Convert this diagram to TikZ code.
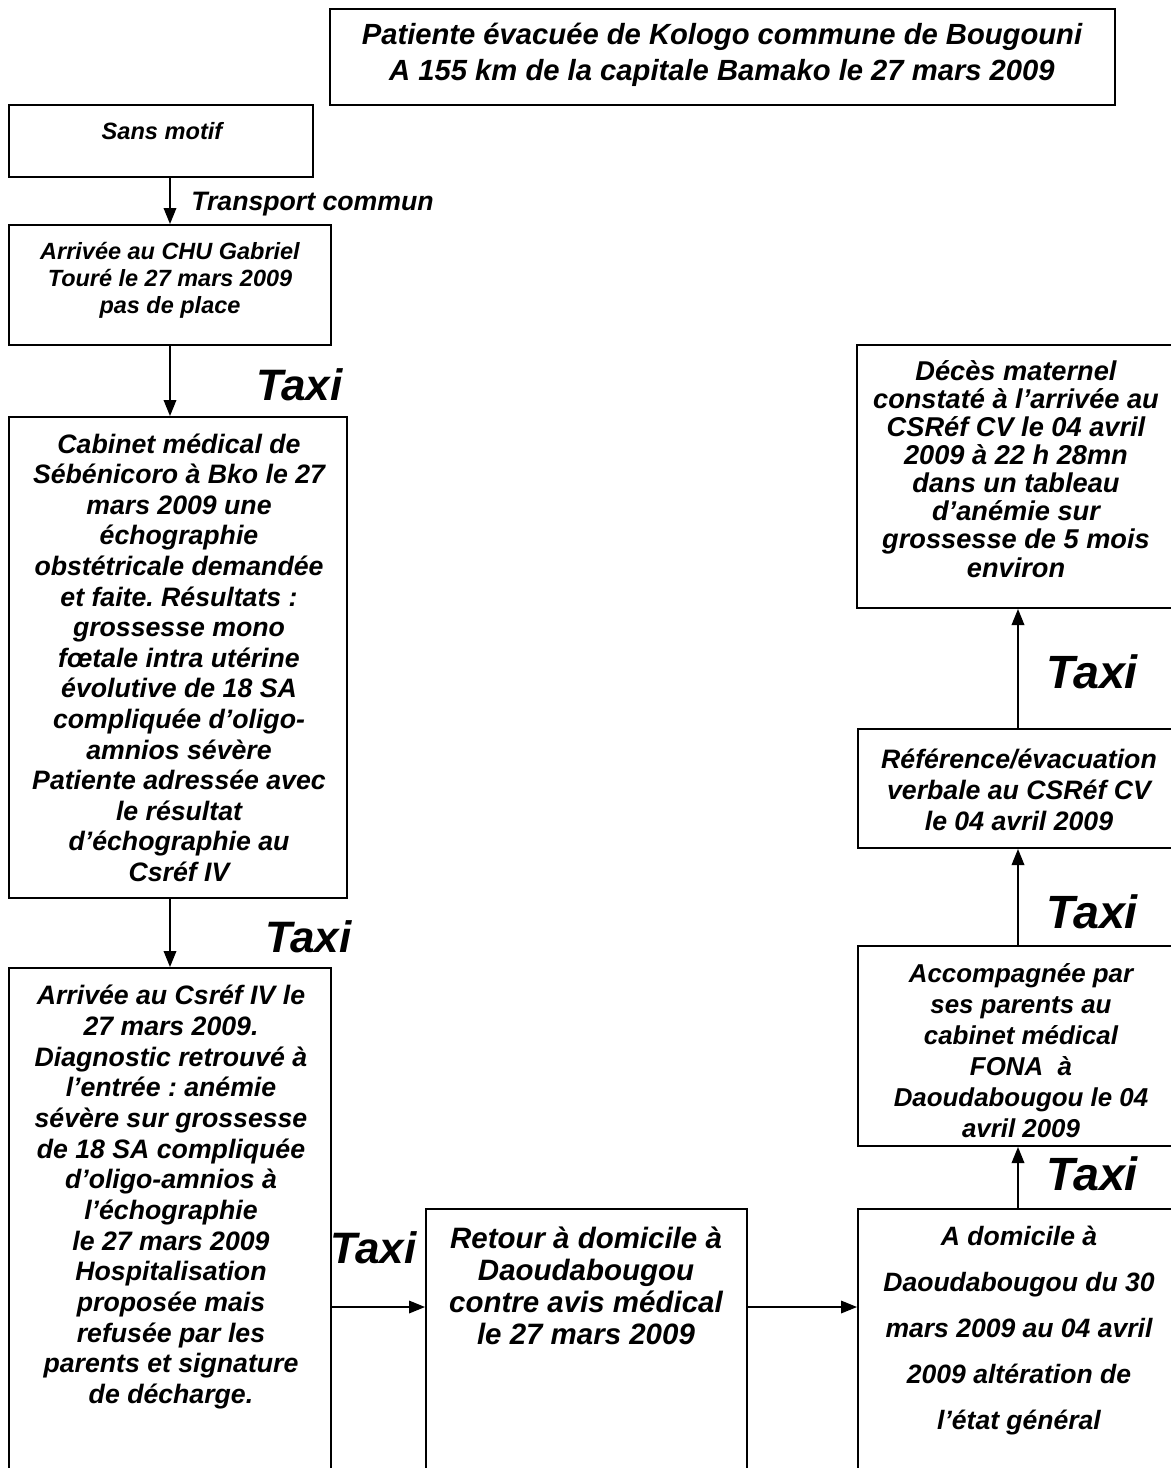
\documentclass[tikz,border=0pt]{standalone}
\usepackage{fontspec}
\setmainfont{Liberation Sans}
\usetikzlibrary{arrows.meta,fit}
\frenchspacing
\newcommand\myfs[2]{\fontsize{#1}{#2}\selectfont\bfseries\itshape}
\begin{document}
\begin{tikzpicture}[x=0.75pt,y=-0.75pt,
  box/.style={draw,line width=1.5pt,inner sep=0pt},
  txt/.style={inner sep=0pt,align=center,anchor=base},
  lbl/.style={inner sep=0pt,anchor=base west},
  taxiL/.style={lbl,font=\myfs{33pt}{36pt}},
  taxiR/.style={lbl,font=\myfs{35pt}{38pt}},
  arr/.style={line width=1pt,-{Triangle[length=12pt,width=9.5pt]}}]
\useasboundingbox (0,0) rectangle (1171,1468);
\clip (0,0) rectangle (1171,1468);

% boxes
\node[box,fit={(330,9) (1115,105)}] (title) {};
\node[box,fit={(9,105) (313,177)}] (sans) {};
\node[box,fit={(9,225) (331,345)}] (chu) {};
\node[box,fit={(9,417) (347,898)}] (cab) {};
\node[box,fit={(9,968) (331,1500)}] (arv) {};
\node[box,fit={(426,1209) (747,1500)}] (ret) {};
\node[box,fit={(858,1209) (1185,1500)}] (dom) {};
\node[box,fit={(858,946) (1185,1146)}] (acc) {};
\node[box,fit={(858,729) (1185,848)}] (ref) {};
\node[box,fit={(857,345) (1185,608)}] (dec) {};

% texts (anchored at the baseline of their last line)
\node[txt,font=\myfs{21.9pt}{27pt}] (titleT) at (722,80)
  {Patiente évacuée de Kologo commune de Bougouni\\A 155 km de la capitale Bamako le 27 mars 2009};
\node[txt,font=\myfs{17.7pt}{20.25pt}] (sansT) at (162,139) {Sans motif};
\node[txt,font=\myfs{17.6pt}{20.25pt}] (chuT) at (170,313)
  {Arrivée au CHU Gabriel\\Touré le 27 mars 2009\\pas de place};
\node[txt,font=\myfs{20pt}{22.95pt}] (cabT) at (179,881.5)
  {Cabinet médical de\\Sébénicoro à Bko le 27\\mars 2009 une\\échographie\\obstétricale demandée\\et faite. Résultats :\\grossesse mono\\fœtale intra utérine\\évolutive de 18 SA\\compliquée d’oligo-\\amnios sévère\\Patiente adressée avec\\le résultat\\d’échographie au\\Csréf IV};
\node[txt,font=\myfs{20pt}{23pt}] (arvT) at (171,1403.5)
  {Arrivée au Csréf IV le\\27 mars 2009.\\Diagnostic retrouvé à\\l’entrée : anémie\\sévère sur grossesse\\de 18 SA compliquée\\d’oligo-amnios à\\l’échographie\\le 27 mars 2009\\Hospitalisation\\proposée mais\\refusée par les\\parents et signature\\de décharge.};
\node[txt,font=\myfs{22.1pt}{23.8pt}] (retT) at (586,1344)
  {Retour à domicile à\\Daoudabougou\\contre avis médical\\le 27 mars 2009};
\node[txt,font=\myfs{19.9pt}{34.5pt}] (domT) at (1019,1429)
  {A domicile à\\Daoudabougou du 30\\mars 2009 au 04 avril\\2009 altération de\\l’état général};
\node[txt,font=\myfs{19.4pt}{23.25pt}] (accT) at (1021,1137)
  {Accompagnée par\\ses parents au\\cabinet médical\\FONA\ \ à\\Daoudabougou le 04\\avril 2009};
\node[txt,font=\myfs{20pt}{23.25pt}] (refT) at (1019,830)
  {Référence/évacuation\\verbale au CSRéf CV\\le 04 avril 2009};
\node[txt,font=\myfs{20.4pt}{21.1pt}] (decT) at (1016,577)
  {Décès maternel\\constaté à l’arrivée au\\CSRéf CV le 04 avril\\2009 à 22 h 28mn\\dans un tableau\\d’anémie sur\\grossesse de 5 mois\\environ};

% labels
\node[lbl,font=\myfs{20pt}{23pt}] (tc) at (191,210) {Transport commun};
\node[taxiL] (tx1) at (256,400) {Taxi};
\node[taxiL] (tx2) at (265,952) {Taxi};
\node[taxiL] (tx3) at (330,1263) {Taxi};
\node[taxiR] (tx4) at (1046,1190) {Taxi};
\node[taxiR] (tx5) at (1046,928) {Taxi};
\node[taxiR] (tx6) at (1046,688) {Taxi};

% connectors
\coordinate (lx) at (170,0);
\coordinate (rx) at (1018,0);
\coordinate (hy) at (0,1307);
\draw[arr] (sans.south -| lx) -- (chu.north -| lx);
\draw[arr] (chu.south -| lx) -- (cab.north -| lx);
\draw[arr] (cab.south -| lx) -- (arv.north -| lx);
\draw[arr] (arv.east |- hy) -- (ret.west |- hy);
\draw[arr] (ret.east |- hy) -- (dom.west |- hy);
\draw[arr] (dom.north -| rx) -- (acc.south -| rx);
\draw[arr] (acc.north -| rx) -- (ref.south -| rx);
\draw[arr] (ref.north -| rx) -- (dec.south -| rx);
\end{tikzpicture}
\end{document}
